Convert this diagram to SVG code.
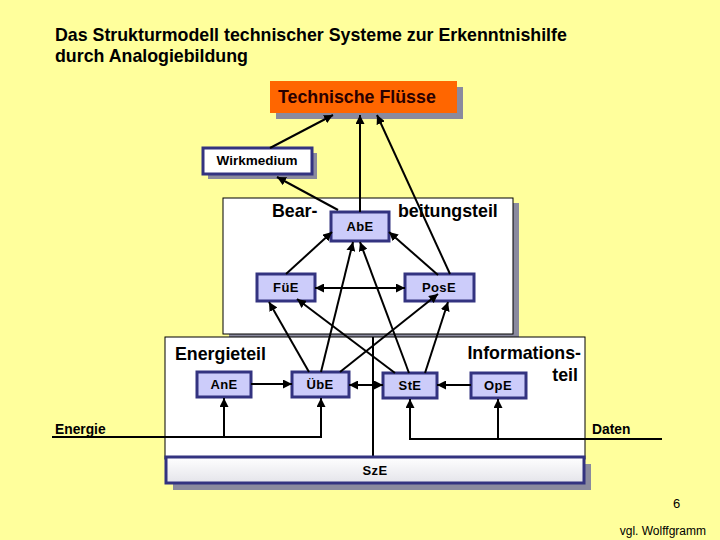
<svg xmlns="http://www.w3.org/2000/svg" width="720" height="540" viewBox="0 0 720 540">
<defs>
<style>
text{font-family:"Liberation Sans",Arial,sans-serif;fill:#000}
.b{font-weight:bold}
.unit{fill:#CCCCFA;stroke:#333380;stroke-width:3}
.lbl{font-weight:bold;font-size:13px;text-anchor:middle;letter-spacing:0.4px}
.sh{fill:#8A8A9E}
.c{stroke:#000;stroke-width:2;fill:none}
.thin{stroke:#000;stroke-width:1;fill:#fff}
</style>
<marker id="ah" viewBox="0 0 10 10" refX="10" refY="5" markerWidth="4.5" markerHeight="4.5" orient="auto-start-reverse" markerUnits="strokeWidth">
<path d="M0,0 L10,5 L0,10 z" fill="#000"/>
</marker>
<linearGradient id="sz" x1="0" y1="0" x2="0" y2="1">
<stop offset="0" stop-color="#FFFFFF"/>
<stop offset="1" stop-color="#E4E4EA"/>
</linearGradient>
</defs>
<rect width="720" height="540" fill="#FFFF9C"/>
<g id="title">
<text class="b" x="55" y="41" font-size="17.8">Das Strukturmodell technischer Systeme zur Erkenntnishilfe</text>
<text class="b" x="55" y="62" font-size="17.8">durch Analogiebildung</text>
</g>
<g id="technische-fluesse">
<rect class="sh" x="276" y="87" width="187" height="32"/>
<rect x="270" y="81" width="187" height="32" fill="#FF6600"/>
<text class="b" x="278" y="103" font-size="17.8" style="fill:#2A0000">Technische Flüsse</text>
</g>
<g id="wirkmedium">
<rect class="sh" x="208" y="153" width="109" height="26"/>
<rect x="203" y="148" width="109" height="26" fill="#fff" stroke="#333380" stroke-width="3"/>
<text class="b" x="257" y="165" font-size="13.5" text-anchor="middle">Wirkmedium</text>
</g>
<g id="bearbeitungsteil">
<rect class="sh" x="229" y="203" width="290" height="136"/>
<rect class="thin" x="223" y="198" width="290" height="136"/>
<text class="b" x="272" y="217" font-size="17.8">Bear-</text>
<text class="b" x="398" y="217" font-size="17.8">beitungsteil</text>
</g>
<g id="energie-informationsteil">
<rect class="thin" x="165" y="337" width="420" height="122"/>
<line x1="373" y1="337" x2="373" y2="457" stroke="#000" stroke-width="2"/>
<text class="b" x="175" y="360" font-size="17.8">Energieteil</text>
<text class="b" x="581" y="359" font-size="17.8" text-anchor="end">Informations-</text>
<text class="b" x="578" y="381" font-size="17.8" text-anchor="end">teil</text>
</g>
<g id="AbE"><rect class="unit" x="331" y="212" width="58" height="29"/><text class="lbl" x="360" y="231">AbE</text></g>
<g id="FuE"><rect class="unit" x="257" y="274" width="58" height="27"/><text class="lbl" x="286" y="292">FüE</text></g>
<g id="PosE"><rect class="unit" x="405" y="274" width="69" height="27"/><text class="lbl" x="439" y="292">PosE</text></g>
<g id="AnE"><rect class="unit" x="197" y="372" width="54" height="25"/><text class="lbl" x="224" y="389">AnE</text></g>
<g id="UbE"><rect class="unit" x="292" y="372" width="57" height="25"/><text class="lbl" x="320" y="389">ÜbE</text></g>
<g id="StE"><rect class="unit" x="383" y="373" width="54" height="25"/><text class="lbl" x="410" y="390">StE</text></g>
<g id="OpE"><rect class="unit" x="471" y="373" width="55" height="25"/><text class="lbl" x="498" y="390">OpE</text></g>
<g id="SzE">
<rect class="sh" x="173" y="464" width="418" height="26"/>
<rect x="166" y="457" width="418" height="26" fill="url(#sz)" stroke="#333380" stroke-width="3"/>
<text class="lbl" x="375" y="475">SzE</text>
</g>
<g id="connectors">
<line class="c" x1="270" y1="148" x2="333" y2="115" marker-end="url(#ah)"/>
<line class="c" x1="360" y1="212" x2="360" y2="115" marker-end="url(#ah)"/>
<line class="c" x1="450" y1="274" x2="377" y2="115" marker-end="url(#ah)"/>
<line class="c" x1="338" y1="210" x2="277" y2="177" marker-end="url(#ah)"/>
<line class="c" x1="286" y1="274" x2="332" y2="232" marker-end="url(#ah)"/>
<line class="c" x1="438" y1="275" x2="389" y2="232" marker-end="url(#ah)"/>
<line class="c" x1="315" y1="288" x2="405" y2="288" marker-start="url(#ah)" marker-end="url(#ah)"/>
<line class="c" x1="309" y1="372" x2="269" y2="302" marker-end="url(#ah)"/>
<line class="c" x1="321" y1="372" x2="353" y2="242" marker-end="url(#ah)"/>
<line class="c" x1="395" y1="373" x2="297" y2="299" marker-end="url(#ah)"/>
<line class="c" x1="409" y1="373" x2="360" y2="242" marker-end="url(#ah)"/>
<line class="c" x1="340" y1="372" x2="438" y2="294" marker-end="url(#ah)"/>
<line class="c" x1="425" y1="373" x2="448" y2="302" marker-end="url(#ah)"/>
<line class="c" x1="251" y1="384" x2="292" y2="384" marker-end="url(#ah)"/>
<line class="c" x1="349" y1="385" x2="383" y2="385" marker-start="url(#ah)" marker-end="url(#ah)"/>
<line class="c" x1="471" y1="385" x2="437" y2="385" marker-end="url(#ah)"/>
<polyline class="c" points="52,437 321,437 321,398" marker-end="url(#ah)"/>
<line class="c" x1="224" y1="437" x2="224" y2="398" marker-end="url(#ah)"/>
<polyline class="c" points="662,439 410,439 410,399" marker-end="url(#ah)"/>
<line class="c" x1="498" y1="439" x2="498" y2="399" marker-end="url(#ah)"/>
</g>
<g id="labels">
<text class="b" x="55" y="434" font-size="13.8">Energie</text>
<text class="b" x="592" y="434" font-size="13.8">Daten</text>
<text x="673" y="508" font-size="13">6</text>
<text x="706" y="535" font-size="12" text-anchor="end">vgl. Wolffgramm</text>
</g>
</svg>
